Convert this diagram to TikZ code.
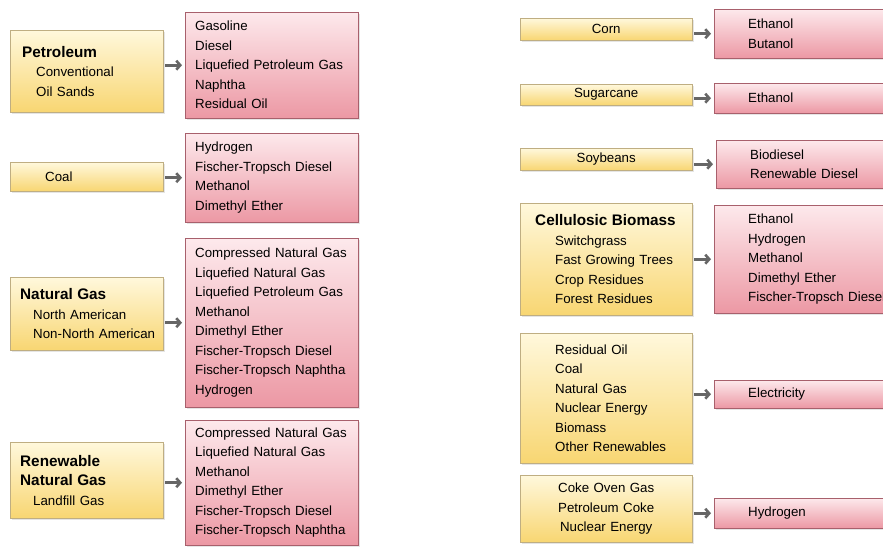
\documentclass[tikz,border=0pt]{standalone}
\usepackage{fontspec}
\setmainfont{Liberation Sans}
\usetikzlibrary{arrows.meta,shadows}
\definecolor{srctop}{HTML}{FFF8DC}
\definecolor{srcbot}{HTML}{F8D672}
\definecolor{srcline}{HTML}{BFAE82}
\definecolor{prodtop}{HTML}{FDE9EC}
\definecolor{prodbot}{HTML}{EC98A4}
\definecolor{prodline}{HTML}{A8606C}
\definecolor{flowgray}{HTML}{666666}
\newcommand{\srchead}[1]{{\fontsize{15.3}{19.5}\selectfont\bfseries #1}}
\newcommand{\indby}[1]{\hspace*{#1pt}}
\tikzset{
	box/.style={anchor=north west, inner ysep=0pt, align=left,
		font=\fontsize{13.3}{19.5}\selectfont,
		drop shadow={opacity=0.2, shadow xshift=2pt, shadow yshift=-2pt}},
	src/.style={box, draw=srcline, top color=srctop, bottom color=srcbot},
	prod/.style={box, draw=prodline, top color=prodtop, bottom color=prodbot},
	flow/.style={draw=flowgray, line width=2.6pt, -{Straight Barb[length=4pt,width=9pt]},
		shorten <=2pt, shorten >=3pt}
}
\begin{document}
\begin{tikzpicture}[x=1pt, y=-1pt]
	\useasboundingbox (0,0) rectangle (883,546);
	\fill[white] (0,0) rectangle (883,546);
	\clip (0,0) rectangle (883,546);

	% left column: fossil and gas feedstocks
	\node[src, minimum width=153, minimum height=82, inner xsep=6pt, text width=141] (petro) at (10,30)
		{\indby{6}\srchead{Petroleum}\\\indby{20}Conventional\\\indby{20}Oil Sands};
	\node[src, minimum width=153, minimum height=29, inner xsep=6pt, text width=141] (coal) at (10,162)
		{\indby{29}Coal};
	\node[src, minimum width=153, minimum height=73, inner xsep=6pt, text width=141] (ng) at (10,277)
		{\indby{4}\srchead{Natural Gas}\\\indby{17}North American\\\indby{17}Non-North American};
	\node[src, minimum width=153, minimum height=76, inner xsep=6pt, text width=141] (rng) at (10,442)
		{\indby{4}\srchead{Renewable}\\\indby{4}\srchead{Natural Gas}\\\indby{17}Landfill Gas};

	\node[prod, minimum width=173, minimum height=106, inner xsep=10pt, text width=153] (petroout) at (185,12)
		{Gasoline\\Diesel\\Liquefied Petroleum Gas\\Naphtha\\Residual Oil};
	\node[prod, minimum width=173, minimum height=89, inner xsep=10pt, text width=153] (coalout) at (185,133)
		{Hydrogen\\Fischer-Tropsch Diesel\\Methanol\\Dimethyl Ether};
	\node[prod, minimum width=173, minimum height=169, inner xsep=10pt, text width=153] (ngout) at (185,238)
		{Compressed Natural Gas\\Liquefied Natural Gas\\Liquefied Petroleum Gas\\Methanol\\Dimethyl Ether\\Fischer-Tropsch Diesel\\Fischer-Tropsch Naphtha\\Hydrogen};
	\node[prod, minimum width=173, minimum height=125, inner xsep=10pt, text width=153] (rngout) at (185,420)
		{Compressed Natural Gas\\Liquefied Natural Gas\\Methanol\\Dimethyl Ether\\Fischer-Tropsch Diesel\\Fischer-Tropsch Naphtha};

	% right column: biomass and power feedstocks
	\node[src, minimum width=172, minimum height=22, inner xsep=6pt, text width=160, align=center] (corn) at (520,18) {Corn};
	\node[src, minimum width=172, minimum height=21, inner xsep=6pt, text width=160, align=center] (sugar) at (520,84) {Sugarcane};
	\node[src, minimum width=172, minimum height=22, inner xsep=6pt, text width=160, align=center] (soy) at (520,148) {Soybeans};
	\node[src, minimum width=172, minimum height=112, inner xsep=6pt, text width=160] (cell) at (520,203)
		{\indby{9}\srchead{Cellulosic Biomass}\\\indby{29}Switchgrass\\\indby{29}Fast Growing Trees\\\indby{29}Crop Residues\\\indby{29}Forest Residues};
	\node[src, minimum width=172, minimum height=130, inner xsep=6pt, text width=160] (power) at (520,333)
		{\indby{29}Residual Oil\\\indby{29}Coal\\\indby{29}Natural Gas\\\indby{29}Nuclear Energy\\\indby{29}Biomass\\\indby{29}Other Renewables};
	\node[src, minimum width=172, minimum height=67, inner xsep=6pt, text width=160, align=center] (coke) at (520,475)
		{Coke Oven Gas\\Petroleum Coke\\Nuclear Energy};

	\node[prod, minimum width=246, minimum height=49, inner xsep=34pt, text width=178] (cornout) at (714,9)
		{Ethanol\\Butanol};
	\node[prod, minimum width=246, minimum height=30, inner xsep=34pt, text width=178] (sugarout) at (714,83)
		{Ethanol};
	\node[prod, minimum width=246, minimum height=48, inner xsep=34pt, text width=178] (soyout) at (716,140)
		{Biodiesel\\Renewable Diesel};
	\node[prod, minimum width=246, minimum height=108, inner xsep=34pt, text width=178] (cellout) at (714,205)
		{Ethanol\\Hydrogen\\Methanol\\Dimethyl Ether\\Fischer-Tropsch Diesel};
	\node[prod, minimum width=246, minimum height=28, inner xsep=34pt, text width=178] (powerout) at (714,380)
		{Electricity};
	\node[prod, minimum width=246, minimum height=30, inner xsep=34pt, text width=178] (cokeout) at (714,498)
		{Hydrogen};

	% arrows
	\foreach \a/\b in {petro/petroout, coal/coalout, ng/ngout, rng/rngout,
		corn/cornout, sugar/sugarout, soy/soyout, cell/cellout, power/powerout, coke/cokeout}
		\draw[flow] (\b.west -| \a.east) -- (\b.west);
\end{tikzpicture}
\end{document}
